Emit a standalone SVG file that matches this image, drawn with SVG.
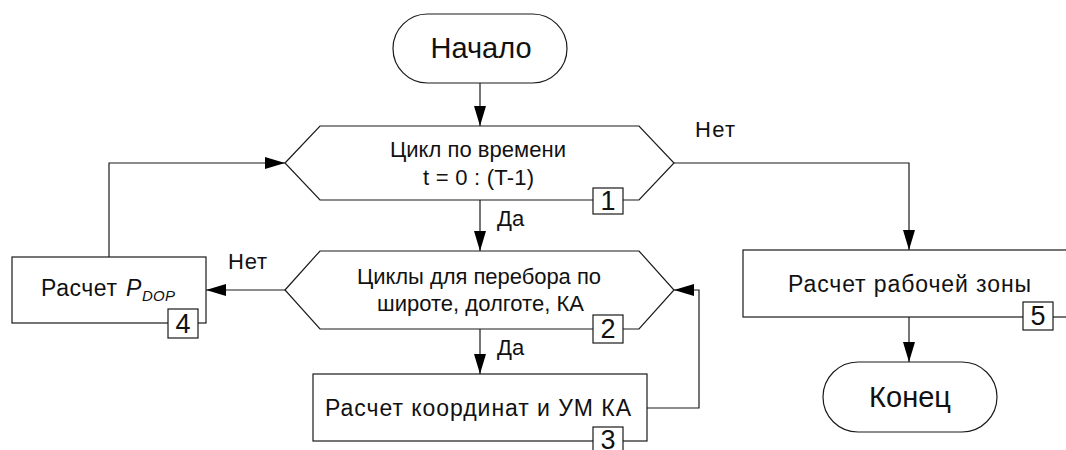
<svg xmlns="http://www.w3.org/2000/svg" width="1066" height="450" viewBox="0 0 1066 450">
  <style>
    .shape { fill: #ffffff; stroke: #1a1a1a; stroke-width: 1.2; }
    .conn { fill: none; stroke: #1a1a1a; stroke-width: 1.2; }
    .t { font-family: "Liberation Sans", Arial, sans-serif; fill: #111111; }
    .big { font-size: 29px; }
    .mid { font-size: 22px; }
    .box { font-size: 23px; }
    .num { font-size: 27px; }
    .lbl { fill: #ffffff; stroke: #1a1a1a; stroke-width: 1.2; }
  </style>
  <defs>
    <marker id="arr" markerUnits="userSpaceOnUse" markerWidth="20" markerHeight="12" refX="20" refY="6" orient="auto">
      <path d="M0,0 L20,6 L0,12 Z" fill="#000000"/>
    </marker>
  </defs>
  <rect width="1066" height="450" fill="#ffffff"/>

  <g id="connectors">
    <line class="conn" x1="480" y1="83" x2="480" y2="126" marker-end="url(#arr)"/>
    <line class="conn" x1="480" y1="200" x2="480" y2="251" marker-end="url(#arr)"/>
    <line class="conn" x1="480" y1="329" x2="480" y2="374" marker-end="url(#arr)"/>
    <polyline class="conn" points="647,408 699,408 699,290 674,290" marker-end="url(#arr)"/>
    <line class="conn" x1="285" y1="290" x2="206" y2="290" marker-end="url(#arr)"/>
    <polyline class="conn" points="109,257 109,163 285,163" marker-end="url(#arr)"/>
    <polyline class="conn" points="674,163 909,163 909,250" marker-end="url(#arr)"/>
    <line class="conn" x1="909" y1="317" x2="909" y2="362" marker-end="url(#arr)"/>
    <text class="t mid" x="497" y="226">Да</text>
    <text class="t mid" x="497" y="355">Да</text>
    <text class="t mid" x="228" y="269" textLength="39" lengthAdjust="spacing">Нет</text>
    <text class="t mid" x="695" y="137" textLength="40" lengthAdjust="spacing">Нет</text>
  </g>

  <g id="start">
    <rect class="shape" x="393" y="14" width="174" height="69" rx="34.5" ry="34.5"/>
    <text class="t big" x="481" y="58" text-anchor="middle">Начало</text>
  </g>

  <g id="loop-time">
    <polygon class="shape" points="285,163 320,126 639,126 674,163 639,200 320,200"/>
    <text class="t mid" x="478" y="157" text-anchor="middle" textLength="176" lengthAdjust="spacing">Цикл по времени</text>
    <text class="t mid" x="478.5" y="185" text-anchor="middle" textLength="111" lengthAdjust="spacing">t = 0 : (T-1)</text>
    <rect class="lbl" x="593" y="188" width="30" height="26"/>
    <text class="t num" x="608" y="210" text-anchor="middle">1</text>
  </g>

  <g id="loop-grid">
    <polygon class="shape" points="285,290 320,251 639,251 674,290 639,329 320,329"/>
    <text class="t mid" x="479" y="284" text-anchor="middle" textLength="244" lengthAdjust="spacing">Циклы для перебора по</text>
    <text class="t mid" x="480.5" y="311" text-anchor="middle" textLength="207" lengthAdjust="spacing">широте, долготе, КА</text>
    <rect class="lbl" x="593" y="315" width="30" height="28"/>
    <text class="t num" x="608" y="338" text-anchor="middle">2</text>
  </g>

  <g id="calc-coords">
    <rect class="shape" x="313" y="374" width="334" height="67"/>
    <text class="t box" x="478" y="416" text-anchor="middle" textLength="306" lengthAdjust="spacing">Расчет координат и УМ КА</text>
    <rect class="lbl" x="593" y="427" width="30" height="28"/>
    <text class="t num" x="608" y="449" text-anchor="middle">3</text>
  </g>

  <g id="calc-pdop">
    <rect class="shape" x="12" y="257" width="194" height="66"/>
    <text class="t box" x="41" y="296" textLength="76" lengthAdjust="spacing">Расчет</text>
    <text class="t box" x="126" y="296" font-style="italic">P</text>
    <text class="t" x="142" y="301" font-size="15" font-style="italic" textLength="33" lengthAdjust="spacing">DOP</text>
    <rect class="lbl" x="168" y="309" width="30" height="29"/>
    <text class="t num" x="183" y="333" text-anchor="middle">4</text>
  </g>

  <g id="calc-zone">
    <rect class="shape" x="743" y="250" width="340" height="67"/>
    <text class="t box" x="909.5" y="292" text-anchor="middle" textLength="243" lengthAdjust="spacing">Расчет рабочей зоны</text>
    <rect class="lbl" x="1023" y="302" width="30" height="28"/>
    <text class="t num" x="1038" y="325" text-anchor="middle">5</text>
  </g>

  <g id="end">
    <rect class="shape" x="823" y="362" width="174" height="70" rx="35" ry="35"/>
    <text class="t big" x="910" y="407" text-anchor="middle">Конец</text>
  </g>
</svg>
